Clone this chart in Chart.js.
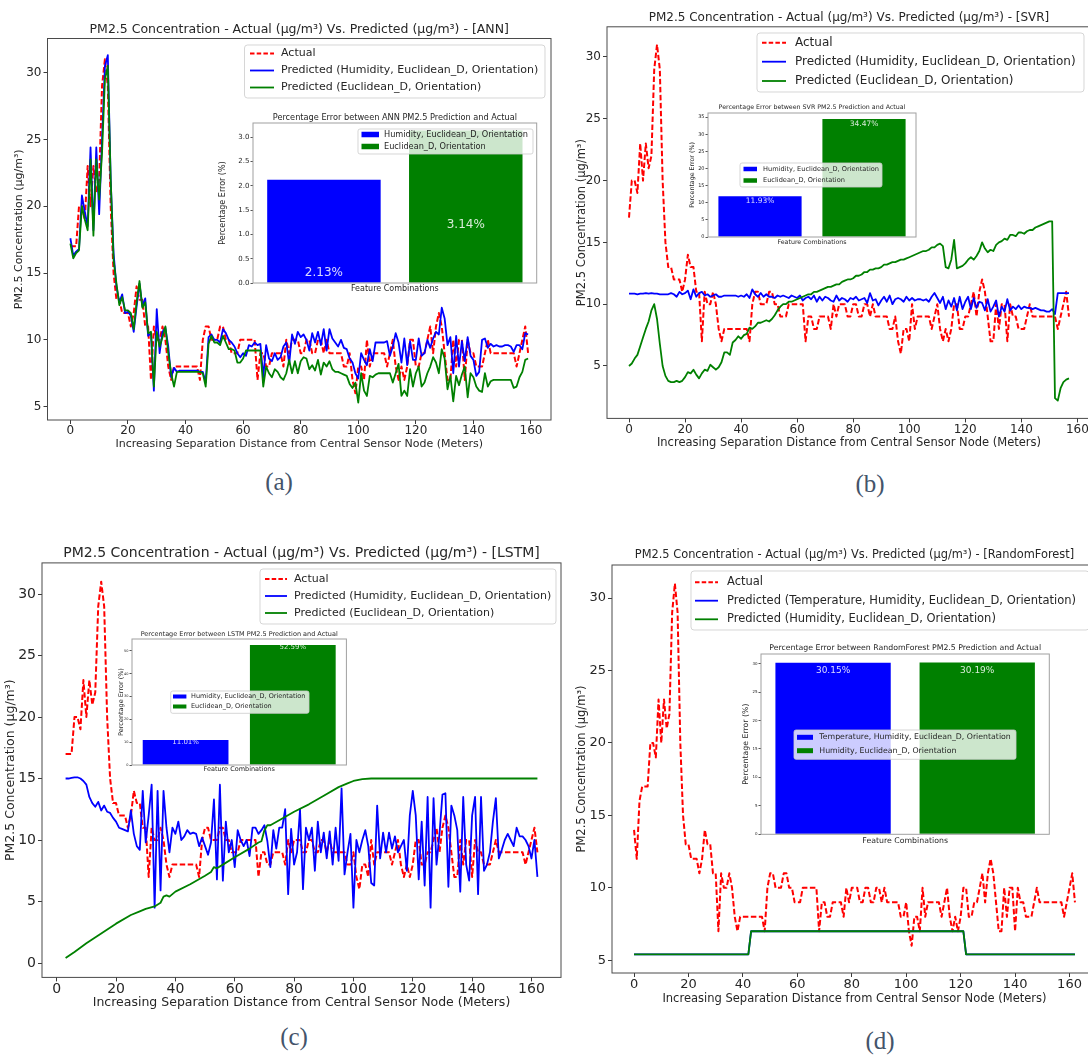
<!DOCTYPE html>
<html>
<head>
<meta charset="utf-8">
<title>PM2.5 Actual vs Predicted</title>
<script src="https://cdn.jsdelivr.net/npm/chart.js@4.4.0/dist/chart.umd.min.js"></script>
<style>
  html, body { margin: 0; padding: 0; background: #fff; width: 1088px; height: 1057px; overflow: hidden; }
  body { position: relative; }
  canvas { position: absolute; }
  .tag { position: absolute; font-family: "Liberation Serif", "DejaVu Serif", serif; font-size: 25px;
         color: #44546a; transform: translate(-50%, -50%); line-height: 1; }
</style>
</head>
<body>
<canvas id="mainA"></canvas>
<canvas id="mainB"></canvas>
<canvas id="mainC"></canvas>
<canvas id="mainD"></canvas>
<canvas id="insetA"></canvas>
<canvas id="insetB"></canvas>
<canvas id="insetC"></canvas>
<canvas id="insetD"></canvas>
<div class="tag" style="left:279px; top:481px;">(a)</div>
<div class="tag" style="left:870px; top:483px;">(b)</div>
<div class="tag" style="left:294px; top:1036px;">(c)</div>
<div class="tag" style="left:880px; top:1040px;">(d)</div>
<script>
// ---------------- data ----------------
const modelNames = ['ANN', 'SVR', 'LSTM', 'RandomForest'];
const combosABC = ['Humidity, Euclidean_D, Orientation', 'Euclidean_D, Orientation'];
const combosD = ['Temperature, Humidity, Euclidean_D, Orientation', 'Humidity, Euclidean_D, Orientation'];
const xTickValues = [0, 20, 40, 60, 80, 100, 120, 140, 160];

// measured PM2.5 along the transect (one reading per metre, 0..162 m)
const actualPM25 = [
  14, 12, 16, 17, 17, 17, 20, 20, 19, 23,
  20, 23, 21, 22, 29, 31, 29, 20, 15, 13,
  13, 12, 12, 12, 11, 12, 14, 13, 13, 11,
  11, 7, 11, 10, 10, 11, 10, 8, 7, 8,
  8, 8, 8, 8, 8, 8, 8, 8, 7, 10,
  11, 11, 10, 10, 10, 11, 11, 10, 10, 9,
  9, 9, 10, 10, 10, 10, 10, 10, 7, 9,
  9, 8, 8, 9, 9, 9, 9, 8, 10, 9,
  10, 10, 10, 9, 9, 10, 10, 9, 9, 10,
  10, 9, 10, 9, 9, 9, 9, 9, 8, 8,
  9, 7, 6, 8, 8, 7, 10, 8, 9, 9,
  9, 9, 9, 8, 9, 10, 8, 7, 8, 7,
  8, 10, 10, 8, 8, 9, 9, 10, 11, 9,
  11, 12, 11, 9, 7, 7, 10, 8, 10, 10,
  7, 10, 9, 9, 8, 8, 8, 9, 10, 9,
  9, 9, 9, 9, 9, 9, 9, 9, 8, 9,
  10, 11, 9
];

// ANN predictions (0..159 m)
const annHumEucOri = [
  17.6, 16.3, 16.6, 16.8, 20.8, 19.6, 18.5, 24.4, 18.2, 24.4,
  19.4, 25.0, 30.5, 31.3, 22.0, 16.5, 14.0, 12.8, 13.4, 12.0,
  12.1, 11.8, 10.6, 12.5, 14.2, 12.5, 13.1, 10.3, 10.5, 6.2,
  12.3, 9.0, 10.6, 10.9, 9.5, 7.2, 7.9, 7.6, 7.7, 7.7,
  7.7, 7.7, 7.7, 7.7, 7.7, 7.6, 7.6, 6.8, 10.2, 10.4,
  10.0, 10.0, 9.8, 10.8, 10.5, 10.0, 9.8, 9.5, 9.0, 8.7,
  9.0, 8.8, 9.6, 9.5, 9.8, 9.6, 9.7, 7.2, 9.6, 8.6,
  8.4, 9.0, 8.5, 8.7, 9.5, 9.8, 8.2, 10.4, 9.7, 10.6,
  10.2, 10.4, 10.0, 9.2, 10.5, 9.8, 10.6, 9.6, 10.8, 9.2,
  10.8, 10.1, 9.8, 9.5, 10.0, 9.4, 9.3, 8.6, 8.3, 7.5,
  7.1, 9.0, 8.5, 8.1, 9.3, 8.4, 9.8, 9.8, 9.8, 9.8,
  9.9, 8.8, 9.5, 10.5, 9.8, 8.3, 10.1, 8.1, 9.9, 8.5,
  8.5, 10.1, 8.8, 9.0, 10.0, 9.4, 10.1, 10.6, 10.4, 12.4,
  11.6, 9.6, 10.2, 7.5, 10.3, 8.0, 9.9, 8.4, 10.2, 8.8,
  8.5, 7.3, 7.6, 10.0, 10.1, 9.4, 9.7, 9.5, 9.6, 9.5,
  9.5, 9.6, 9.6, 9.5, 9.1, 9.6, 9.6, 9.3, 10.5, 10.4
];
const annEucOri = [
  17.2, 16.1, 16.5, 16.7, 20.0, 19.0, 18.2, 23.5, 17.8, 23.5,
  20.5, 24.0, 29.5, 30.5, 22.0, 16.0, 14.2, 12.6, 13.2, 12.2,
  12.2, 12.0, 10.8, 12.8, 14.4, 12.4, 12.8, 10.5, 10.6, 6.5,
  10.6, 9.5, 10.2, 11.0, 9.0, 7.5, 6.5, 7.6, 7.6, 7.6,
  7.6, 7.6, 7.6, 7.6, 7.6, 7.6, 7.5, 6.5, 9.7, 10.3,
  9.8, 9.8, 9.6, 10.3, 9.8, 9.3, 9.3, 9.2, 8.3, 8.3,
  8.6, 9.2, 9.2, 9.2, 9.2, 9.2, 9.2, 6.5, 8.0, 7.5,
  7.2, 7.8, 7.6, 7.2, 7.0, 7.5, 8.5, 7.5, 8.4, 7.5,
  8.4, 8.7, 8.6, 7.8, 8.1, 7.7, 8.5, 7.4, 8.3, 8.0,
  8.4, 7.8, 7.6, 7.6, 7.5, 7.4, 7.3, 6.7, 6.4, 6.8,
  5.3, 7.5, 6.2, 5.8, 7.3, 7.2, 7.4, 7.5, 7.5, 7.5,
  7.5, 7.5, 6.8, 7.5, 8.2, 5.8, 6.2, 5.8, 7.8, 6.5,
  7.5, 8.0, 6.5, 6.8, 7.5, 8.0, 8.7, 8.3, 7.5, 9.3,
  8.6, 6.3, 7.3, 5.4, 7.3, 6.6, 7.4, 8.0, 5.7, 7.5,
  7.2, 6.5, 6.2, 6.1, 7.5, 6.5, 6.9, 7.0, 7.0, 7.0,
  7.0, 7.0, 7.0, 7.0, 6.4, 6.5, 7.2, 7.6, 8.5, 8.6
];

// SVR predictions (0..157 m)
const svrHumEucOri = [
  10.85, 10.85, 10.85, 10.8, 10.85, 10.85, 10.9, 10.85, 10.9, 10.85,
  10.85, 10.8, 10.8, 10.8, 10.8, 10.9, 10.8, 10.6, 11.0, 10.8,
  10.9, 11.1, 10.4, 11.2, 10.6, 10.9, 11.0, 10.7, 10.8, 10.6,
  10.7, 10.8, 10.6, 10.6, 10.7, 10.7, 10.7, 10.7, 10.7, 10.6,
  10.7, 10.6, 10.8, 10.5, 11.2, 10.8, 10.6, 10.9, 10.6, 10.8,
  10.6, 10.6, 10.5, 10.7, 10.6, 10.7, 10.6, 10.5, 10.7, 10.6,
  10.5, 10.7, 10.3, 10.5, 10.6, 10.4, 10.7, 10.2, 10.6, 10.3,
  10.6, 10.5, 10.3, 10.2, 10.7, 10.3, 10.5, 10.4, 10.2, 10.5,
  10.4, 10.6, 10.3, 10.4, 10.5, 10.1, 10.9, 10.3, 10.4, 9.9,
  10.3, 10.6, 10.2, 10.7, 10.0, 10.4, 10.5, 10.4, 10.2, 10.6,
  10.3, 10.5, 10.3, 10.4, 10.4, 10.3, 10.4, 10.2, 10.6, 10.9,
  10.5, 10.1, 10.6, 9.6, 10.3, 9.8, 10.5, 9.5, 10.6, 9.6,
  10.2, 10.6, 9.6, 10.5, 9.7, 10.2, 10.1, 9.5, 10.4, 9.4,
  9.8, 10.3, 9.0, 9.8, 9.4, 10.4, 9.5, 9.8, 9.6, 9.9,
  9.6, 9.8, 9.7, 9.7, 9.6, 9.7, 9.6, 9.5, 9.5, 9.4,
  9.4, 9.6, 9.2, 10.9, 10.9, 10.9, 10.9, 10.9
];
const svrEucOri = [
  5.0, 5.2, 5.6, 5.9, 6.6, 7.3, 8.0, 8.6, 9.5, 10.0,
  8.8, 6.8, 5.0, 4.2, 3.8, 3.7, 3.7, 3.8, 3.7, 3.8,
  4.1, 4.5, 4.4, 4.7, 4.3, 4.0, 4.4, 4.7, 4.6, 5.1,
  4.9, 4.7, 4.9, 5.3, 6.1, 6.1, 5.9, 6.9, 7.1, 7.4,
  7.2, 7.5, 7.6, 8.1, 8.0, 8.2, 8.5, 8.5, 8.6, 8.7,
  8.6, 8.8, 9.1, 9.5, 9.8, 10.0, 10.0, 10.2, 10.2, 10.3,
  10.4, 10.5, 10.6, 10.7, 10.8, 10.8, 11.0, 11.0, 11.1, 11.2,
  11.3, 11.4, 11.4, 11.5, 11.6, 11.6, 11.8, 11.9, 12.0, 12.0,
  12.1, 12.3, 12.3, 12.4, 12.6, 12.6, 12.8, 12.8, 12.9, 12.9,
  13.0, 13.2, 13.2, 13.3, 13.4, 13.4, 13.5, 13.6, 13.6, 13.7,
  13.8, 13.9, 14.0, 14.1, 14.2, 14.3, 14.3, 14.4, 14.6, 14.6,
  14.8, 14.9, 14.7, 13.0, 12.9, 13.6, 15.2, 12.9, 13.0, 13.1,
  13.3, 13.6, 13.8, 13.6, 13.9, 14.3, 15.0, 14.5, 14.2, 14.4,
  14.3, 14.8, 15.0, 15.1, 15.3, 15.2, 15.6, 15.6, 15.5, 15.8,
  15.8, 15.7, 15.9, 16.0, 16.0, 16.2, 16.3, 16.4, 16.5, 16.6,
  16.7, 16.7, 2.4, 2.2, 3.2, 3.7, 3.9, 4.0
];

// LSTM predictions (3..162 m)
const lstmHumEucOri = [
  15.0, 15.0, 15.05, 15.1, 15.1, 15.0, 14.8, 14.5, 13.5, 13.0,
  12.7, 13.1, 12.4, 12.8, 12.3, 12.2, 11.8, 11.5, 11.0, 10.9,
  10.8, 10.7, 12.4, 10.5, 9.5, 9.2, 14.0, 9.8, 12.0, 14.5,
  4.5, 14.0, 5.9, 14.0, 11.0, 9.0, 11.0, 10.5, 11.5, 10.0,
  10.3, 10.8, 10.5, 10.6, 10.5, 9.5, 10.2, 9.5, 8.8, 9.8,
  13.3, 6.8, 14.5, 6.7, 11.5, 9.0, 10.0, 7.8, 10.8, 10.0,
  9.5, 10.0, 8.7, 11.0, 11.0, 10.5, 10.8, 11.2, 9.9, 7.8,
  10.8, 9.3, 11.0, 11.0, 12.5, 5.6, 10.9, 8.0, 9.0, 12.5,
  6.0, 11.0, 10.0, 11.0, 7.5, 11.5, 9.0, 10.6, 8.5, 10.7,
  8.0, 11.0, 8.3, 14.2, 7.2, 9.0, 10.5, 4.5, 10.0, 9.0,
  10.0, 10.8, 9.5, 6.5, 6.3, 12.8, 8.5, 10.6, 9.0, 10.6,
  9.3, 10.3, 9.0, 9.5, 10.0, 7.5, 12.0, 14.0, 12.0, 6.8,
  11.5, 6.3, 13.5, 4.5, 13.4, 8.0, 10.5, 13.7, 13.8, 6.2,
  12.8, 12.0, 10.8, 5.8, 13.5, 8.0, 6.7, 12.0, 13.5, 5.6,
  13.5, 7.5, 8.0, 9.0, 11.5, 13.4, 8.5, 9.2, 10.0, 10.5,
  10.0, 9.5, 11.0, 10.3, 10.3, 10.0, 9.5, 8.5, 10.0, 7.0
];
const lstmEucOriX = [3, 6, 10, 15, 20, 25, 28, 30, 33, 35, 36, 37, 38, 40, 45, 50, 52, 53, 54, 56,
                     60, 65, 68, 69, 70, 71, 72, 75, 80, 85, 90, 95, 98, 100, 103, 106, 110, 162];
const lstmEucOri = [0.4, 0.9, 1.6, 2.4, 3.2, 3.9, 4.2, 4.4, 4.6, 4.9, 5.4, 5.5, 5.4, 5.8, 6.4, 7.1, 7.4, 7.8, 7.7, 8.0,
                    8.6, 9.3, 9.8, 9.9, 10.8, 11.2, 11.2, 11.6, 12.3, 12.9, 13.6, 14.3, 14.6, 14.8, 14.95, 15.0, 15.0, 15.0];

// RandomForest predictions (step profile, 0..162 m)
const rfX = [0, 42, 43, 121, 122, 162];
const rfTempHumEucOri = [5.4, 5.4, 7.0, 7.0, 5.4, 5.4];
const rfHumEucOri = [5.4, 5.4, 7.0, 7.0, 5.4, 5.4];

// percentage errors shown in the bar insets
const errANN = [2.13, 3.14];
const errSVR = [11.93, 34.47];
const errLSTM = [11.01, 52.59];
const errRF = [30.15, 30.19];

// ---------------- drawing helpers ----------------
const FAMILY = "'DejaVu Sans', sans-serif";
Chart.defaults.font.family = FAMILY;
const INK = '#262626';
const RED = '#ff0000', BLUE = '#0000ff', GREEN = '#008000';
const Y_TITLE = 'PM2.5 Concentration (µg/m³)';
const X_TITLE = 'Increasing Separation Distance from Central Sensor Node (Meters)';
const mainTitle = m => 'PM2.5 Concentration - Actual (µg/m³) Vs. Predicted (µg/m³) - [' + m + ']';
const insetTitle = m => 'Percentage Error between ' + m + ' PM2.5 Prediction and Actual';

function metres(start, n) { const out = []; for (let i = 0; i < n; i++) out.push(start + i); return out; }

function place(id, box) {
  const cv = document.getElementById(id);
  cv.width = box.w; cv.height = box.h;
  cv.style.left = box.x + 'px'; cv.style.top = box.y + 'px';
  return cv;
}

function roundRectPath(c, x, y, w, h, r) {
  c.beginPath();
  c.moveTo(x + r, y);
  c.lineTo(x + w - r, y); c.arcTo(x + w, y, x + w, y + r, r);
  c.lineTo(x + w, y + h - r); c.arcTo(x + w, y + h, x + w - r, y + h, r);
  c.lineTo(x + r, y + h); c.arcTo(x, y + h, x, y + h - r, r);
  c.lineTo(x, y + r); c.arcTo(x, y, x + r, y, r);
  c.closePath();
}

function framePlugin(color, fillWhite) {
  return {
    id: 'frame',
    beforeDatasetsDraw(chart) {
      if (!fillWhite) return;
      const a = chart.chartArea, c = chart.ctx;
      c.save(); c.fillStyle = '#fff';
      c.fillRect(a.left, a.top, a.right - a.left, a.bottom - a.top);
      c.restore();
    },
    afterDatasetsDraw(chart) {
      const a = chart.chartArea, c = chart.ctx;
      c.save(); c.strokeStyle = color; c.lineWidth = 1;
      c.strokeRect(a.left, a.top, a.right - a.left, a.bottom - a.top);
      c.restore();
    }
  };
}

function legendPlugin(L, box) {
  return {
    id: 'boxLegend',
    afterDraw(chart) {
      const c = chart.ctx, ox = box.x, oy = box.y;
      c.save();
      roundRectPath(c, L.l - ox, L.t - oy, L.r - L.l, L.b - L.t, L.radius);
      c.fillStyle = 'rgba(255,255,255,0.8)'; c.fill();
      c.strokeStyle = 'rgba(204,204,204,0.8)'; c.lineWidth = 1; c.stroke();
      c.font = L.size + 'px ' + FAMILY; c.textBaseline = 'middle'; c.textAlign = 'left';
      L.items.forEach((it, i) => {
        const y = L.rows[i] - oy;
        if (it.patch) {
          c.fillStyle = it.color;
          c.fillRect(L.s0 - ox, y - L.ph / 2, L.s1 - L.s0, L.ph);
        } else {
          c.beginPath(); c.setLineDash(it.dash || []);
          c.strokeStyle = it.color; c.lineWidth = it.width;
          c.moveTo(L.s0 - ox, y); c.lineTo(L.s1 - ox, y); c.stroke();
          c.setLineDash([]);
        }
        c.fillStyle = INK;
        c.fillText(it.label, L.tx - ox, y);
      });
      c.restore();
    }
  };
}

function valueLabelPlugin(Q) {
  return {
    id: 'valueLabels',
    afterDatasetsDraw(chart) {
      const meta = chart.getDatasetMeta(0), c = chart.ctx;
      c.save();
      c.font = Q.valSize + 'px ' + FAMILY;
      c.fillStyle = 'rgba(255,255,255,0.85)';
      c.textAlign = 'center'; c.textBaseline = 'middle';
      meta.data.forEach((bar, i) => {
        const y = Q.valAboveBase ? bar.base - Q.valAboveBase[i] : bar.y + Q.valBelowTop;
        c.fillText(Q.values[i].toFixed(2) + '%', bar.x, y);
      });
      c.restore();
    }
  };
}

function lineSet(label, xs, ys, color, order, dashed) {
  return {
    label, order,
    data: ys.map((y, i) => ({ x: xs[i], y })),
    borderColor: color, backgroundColor: color,
    borderWidth: dashed ? 2 : 1.8,
    borderDash: dashed ? [5.5, 2.5] : [],
    borderJoinStyle: 'round',
    pointRadius: 0, tension: 0, fill: false
  };
}

function mainChart(id, P) {
  const box = P.box, A = P.area;
  place(id, box);
  const tLH = P.titleSize * 1.2, aLH = P.axisSize * 1.2;
  const yW = 40;
  const padL = A.l - box.x - yW;
  const padR = box.x + box.w - A.r;
  const xBottom = P.xTitleY + aLH / 2;
  const xH = xBottom - A.b;
  const padB = box.y + box.h - xBottom;
  const tTop = P.titleY - box.y - tLH / 2;
  const tBottom = A.t - P.titleY - tLH / 2;
  const yTitlePad = P.yTitleX - (box.x + padL) - aLH / 2;

  const legendItems = P.datasets.map(d => ({
    label: d.label, color: d.borderColor, width: d.borderWidth,
    dash: d.borderDash && d.borderDash.length ? [4.5, 2.2] : []
  }));

  return new Chart(document.getElementById(id), {
    type: 'line',
    data: { datasets: P.datasets },
    options: {
      responsive: false, animation: false, events: [],
      layout: { padding: { left: padL, right: padR, top: 0, bottom: padB } },
      plugins: {
        legend: { display: false }, tooltip: { enabled: false },
        title: {
          display: true, text: P.title, color: INK, fullSize: false,
          font: { size: P.titleSize, weight: 'normal' },
          padding: { top: tTop, bottom: tBottom }
        }
      },
      scales: {
        x: {
          type: 'linear', min: P.xMin, max: P.xMax,
          afterBuildTicks: s => { s.ticks = xTickValues.map(v => ({ value: v })); },
          afterFit: s => { s.height = xH; },
          ticks: { font: { size: P.tickSize }, color: INK, padding: 0, autoSkip: false, maxRotation: 0,
                   callback: v => String(v) },
          grid: { display: true, drawOnChartArea: false, drawTicks: true, tickLength: 4, color: '#3a3a3a' },
          border: { display: false },
          title: { display: true, text: X_TITLE, color: INK, font: { size: P.axisSize },
                   padding: { top: 0, bottom: 0 } }
        },
        y: {
          type: 'linear', min: P.yMin, max: P.yMax,
          afterBuildTicks: s => { s.ticks = P.yTicks.map(v => ({ value: v })); },
          afterFit: s => { s.width = yW; },
          ticks: { font: { size: P.tickSize }, color: INK, padding: 2, callback: v => String(v) },
          grid: { display: true, drawOnChartArea: false, drawTicks: true, tickLength: 4, color: '#3a3a3a' },
          border: { display: false },
          title: { display: true, text: Y_TITLE, color: INK, font: { size: P.axisSize },
                   padding: { top: yTitlePad, bottom: 0 } }
        }
      }
    },
    plugins: [framePlugin('#4a4a4a', false), legendPlugin(Object.assign({ items: legendItems }, P.legend), box)]
  });
}

function insetChart(id, Q) {
  const box = Q.box, A = Q.area;
  place(id, box);
  const tLH = Q.titleSize * 1.2, lLH = Q.labelSize * 1.2;
  const yW = A.l - box.x;
  const padR = box.x + box.w - A.r;
  const xBottom = Q.xTitleY + lLH / 2;
  const xH = xBottom - A.b;
  const padB = box.y + box.h - xBottom;
  const tTop = Q.titleY - box.y - tLH / 2;
  const tBottom = A.t - Q.titleY - tLH / 2;
  const yTitlePad = Q.yTitleX - box.x - lLH / 2;
  const colors = [BLUE, GREEN];
  const legendItems = Q.names.map((n, i) => ({ label: n, color: colors[i], patch: true }));

  return new Chart(document.getElementById(id), {
    type: 'bar',
    data: {
      labels: Q.names,
      datasets: [{ data: Q.values, backgroundColor: colors, borderWidth: 0,
                   barPercentage: 0.8, categoryPercentage: 1.0 }]
    },
    options: {
      responsive: false, animation: false, events: [],
      layout: { padding: { left: 0, right: padR, top: 0, bottom: padB } },
      plugins: {
        legend: { display: false }, tooltip: { enabled: false },
        title: {
          display: true, text: Q.title, color: INK, fullSize: false,
          font: { size: Q.titleSize, weight: 'normal' },
          padding: { top: tTop, bottom: tBottom }
        }
      },
      scales: {
        x: {
          type: 'category', offset: true,
          afterFit: s => { s.height = xH; },
          ticks: { display: false },
          grid: { display: false },
          border: { display: false },
          title: { display: true, text: 'Feature Combinations', color: INK, font: { size: Q.labelSize },
                   padding: { top: 0, bottom: 0 } }
        },
        y: {
          type: 'linear', min: 0, max: Math.max(...Q.values) * 1.05,
          afterBuildTicks: s => { s.ticks = Q.yTicks.map(v => ({ value: v })); },
          afterFit: s => { s.width = yW; },
          ticks: { font: { size: Q.tickSize }, color: INK, padding: 1,
                   callback: v => Q.decimals ? v.toFixed(Q.decimals) : String(v) },
          grid: { display: true, drawOnChartArea: false, drawTicks: true, tickLength: 2.5, color: '#555' },
          border: { display: false },
          title: { display: true, text: 'Percentage Error (%)', color: INK, font: { size: Q.labelSize },
                   padding: { top: yTitlePad, bottom: 0 } }
        }
      }
    },
    plugins: [framePlugin('#a0a0a0', true), valueLabelPlugin(Q),
              legendPlugin(Object.assign({ items: legendItems }, Q.legend), box)]
  });
}

const predLabel = c => 'Predicted (' + c + ')';

// ---------------- (a) ANN ----------------
mainChart('mainA', {
  box: { x: 0, y: 0, w: 560, h: 462 },
  area: { l: 47.5, t: 38.5, r: 551, b: 420 },
  xMin: -7.95, xMax: 166.95, yMin: 4.0, yMax: 32.55, yTicks: [5, 10, 15, 20, 25, 30],
  title: mainTitle(modelNames[0]), titleSize: 12.5, tickSize: 12, axisSize: 11,
  titleY: 30, xTitleY: 444, yTitleX: 19,
  datasets: [
    lineSet('Actual', metres(0, 160), actualPM25.slice(3), RED, 3, true),
    lineSet(predLabel(combosABC[0]), metres(0, 160), annHumEucOri, BLUE, 2, false),
    lineSet(predLabel(combosABC[1]), metres(0, 160), annEucOri, GREEN, 1, false)
  ],
  legend: { l: 244.5, t: 45, r: 545, b: 98, radius: 3, rows: [53.5, 70.5, 87.5], s0: 250, s1: 274, tx: 281, size: 11 }
});
insetChart('insetA', {
  box: { x: 200, y: 105, w: 345, h: 195 },
  area: { l: 253, t: 123, r: 536.7, b: 283 },
  title: insetTitle(modelNames[0]), titleSize: 8.2, labelSize: 8, tickSize: 7,
  titleY: 118, xTitleY: 289, yTitleX: 223,
  names: combosABC, values: errANN, yTicks: [0, 0.5, 1, 1.5, 2, 2.5, 3], decimals: 1,
  valSize: 12, valAboveBase: [10, 58],
  legend: { l: 358, t: 129, r: 533, b: 154, radius: 2, rows: [134.5, 146.5], s0: 361.5, s1: 379, ph: 5.5, tx: 384, size: 8.2 }
});

// ---------------- (b) SVR ----------------
mainChart('mainB', {
  box: { x: 560, y: 0, w: 540, h: 462 },
  area: { l: 607, t: 26.8, r: 1091, b: 418.4 },
  xMin: -7.85, xMax: 164.85, yMin: 0.76, yMax: 32.44, yTicks: [5, 10, 15, 20, 25, 30],
  title: mainTitle(modelNames[1]), titleSize: 12, tickSize: 12, axisSize: 11.5,
  titleY: 18, xTitleY: 443, yTitleX: 582,
  datasets: [
    lineSet('Actual', metres(0, 158), actualPM25.slice(5), RED, 3, true),
    lineSet(predLabel(combosABC[0]), metres(0, 158), svrHumEucOri, BLUE, 2, false),
    lineSet(predLabel(combosABC[1]), metres(0, 158), svrEucOri, GREEN, 1, false)
  ],
  legend: { l: 757, t: 33, r: 1084, b: 92, radius: 3, rows: [42.7, 61.7, 81], s0: 762, s1: 786, tx: 795, size: 12 }
});
insetChart('insetB', {
  box: { x: 680, y: 98, w: 240, h: 152 },
  area: { l: 708, t: 113, r: 916, b: 237 },
  title: insetTitle(modelNames[1]), titleSize: 6.3, labelSize: 6.3, tickSize: 5,
  titleY: 107, xTitleY: 242, yTitleX: 692,
  names: combosABC, values: errSVR, yTicks: [0, 5, 10, 15, 20, 25, 30, 35], decimals: 0,
  valSize: 7.5, valBelowTop: 5,
  legend: { l: 740, t: 163, r: 882, b: 187, radius: 2, rows: [169, 180.5], s0: 743.5, s1: 757, ph: 4.5, tx: 763, size: 6.6 }
});

// ---------------- (c) LSTM ----------------
mainChart('mainC', {
  box: { x: 0, y: 520, w: 575, h: 500 },
  area: { l: 42, t: 562.9, r: 561, b: 977.4 },
  xMin: -4.95, xMax: 169.95, yMin: -1.17, yMax: 32.53, yTicks: [0, 5, 10, 15, 20, 25, 30],
  title: mainTitle(modelNames[2]), titleSize: 14, tickSize: 14, axisSize: 12.5,
  titleY: 553, xTitleY: 1003, yTitleX: 11,
  datasets: [
    lineSet('Actual', metres(3, 160), actualPM25.slice(3), RED, 3, true),
    lineSet(predLabel(combosABC[0]), metres(3, 160), lstmHumEucOri, BLUE, 2, false),
    lineSet(predLabel(combosABC[1]), lstmEucOriX, lstmEucOri, GREEN, 1, false)
  ],
  legend: { l: 260, t: 569, r: 556, b: 624, radius: 3, rows: [579, 596, 613], s0: 265, s1: 287, tx: 294, size: 11 }
});
insetChart('insetC', {
  box: { x: 100, y: 622, w: 250, h: 155 },
  area: { l: 132, t: 639, r: 346.4, b: 765 },
  title: insetTitle(modelNames[2]), titleSize: 6.5, labelSize: 6.5, tickSize: 3.5,
  titleY: 634, xTitleY: 769.3, yTitleX: 121.4,
  names: combosABC, values: errLSTM, yTicks: [0, 10, 20, 30, 40, 50], decimals: 0,
  valSize: 7, valBelowTop: 2,
  legend: { l: 170.7, t: 691, r: 309, b: 713.3, radius: 2, rows: [696.5, 706.5], s0: 173, s1: 186.4, ph: 4, tx: 191, size: 6.5 }
});

// ---------------- (d) RandomForest ----------------
mainChart('mainD', {
  box: { x: 560, y: 520, w: 548, h: 500 },
  area: { l: 612, t: 565, r: 1097, b: 973 },
  xMin: -8.1, xMax: 170.1, yMin: 4.12, yMax: 32.28, yTicks: [5, 10, 15, 20, 25, 30],
  title: mainTitle(modelNames[3]), titleSize: 11.4, tickSize: 13, axisSize: 11.5,
  titleY: 555, xTitleY: 999, yTitleX: 581.7,
  datasets: [
    lineSet('Actual', metres(0, 163), actualPM25, RED, 3, true),
    lineSet(predLabel(combosD[0]), rfX, rfTempHumEucOri, BLUE, 2, false),
    lineSet(predLabel(combosD[1]), rfX, rfHumEucOri, GREEN, 1, false)
  ],
  legend: { l: 691, t: 571, r: 1089, b: 630, radius: 3, rows: [582.3, 600.7, 619.3], s0: 695, s1: 718, tx: 727, size: 11.5 }
});
insetChart('insetD', {
  box: { x: 730, y: 640, w: 325, h: 206 },
  area: { l: 761, t: 654, r: 1049.3, b: 834.3 },
  title: insetTitle(modelNames[3]), titleSize: 7.8, labelSize: 7.8, tickSize: 4,
  titleY: 647.7, xTitleY: 840.7, yTitleX: 745.9,
  names: combosD, values: errRF, yTicks: [0, 5, 10, 15, 20, 25, 30], decimals: 0,
  valSize: 9, valBelowTop: 8,
  legend: { l: 794, t: 730, r: 1016, b: 759.3, radius: 2, rows: [737.3, 750.7], s0: 797, s1: 813, ph: 5, tx: 819.3, size: 7.8 }
});
</script>
</body>
</html>
